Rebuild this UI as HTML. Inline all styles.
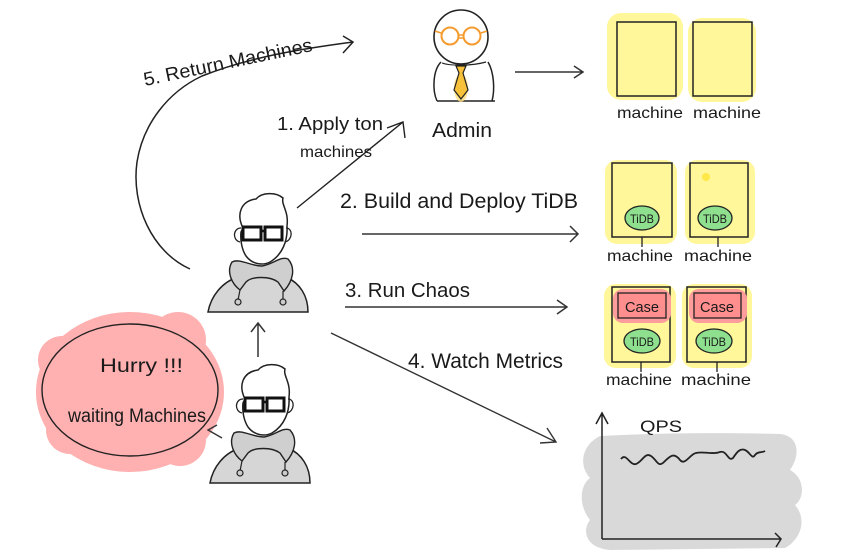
<!DOCTYPE html>
<html><head><meta charset="utf-8">
<style>
html,body{margin:0;padding:0;background:#fff;}
svg{display:block;}
text{font-family:"Liberation Sans",sans-serif;fill:#1a1a1a;}
</style></head>
<body>
<svg width="865" height="560" viewBox="0 0 865 560" xmlns="http://www.w3.org/2000/svg">
<defs>
<g id="dev">
  <!-- body -->
  <path d="M208 312 C211 296 222 282 238 277 L286 277 C300 283 308 296 308 312 Z" fill="#d6d6d6" stroke="#222" stroke-width="1.5"/>
  <!-- hood collar -->
  <path d="M232 262 C226 272 232 284 240 290 L246 282 C252 276 270 276 278 282 L284 291 C293 281 296 268 288 259 C280 256 274 264 262 266 C250 266 240 258 232 262 Z" fill="#cfcfcf" stroke="#222" stroke-width="1.4"/>
  <path d="M240 290 L238 300 M283 291 L283 300" stroke="#222" stroke-width="1.2" fill="none"/>
  <circle cx="238" cy="302" r="3" fill="#ccc" stroke="#222" stroke-width="1.2"/>
  <circle cx="283" cy="302" r="3" fill="#ccc" stroke="#222" stroke-width="1.2"/>
  <!-- head -->
  <path d="M243 228 C236 214 241 201 256 199 C262 192 276 192 283 198 C281 205 289 211 287 226 C288 241 282 255 270 262 C262 266 252 264 246 256 C242 250 240 240 241 232 Z" fill="#fff" stroke="#222" stroke-width="1.5"/>
  <path d="M241 228 C233 228 232 240 240 242 M286 228 C293 228 293 240 285 242" fill="none" stroke="#222" stroke-width="1.3"/>
  <!-- glasses -->
  <rect x="243" y="227" width="18" height="13" fill="none" stroke="#111" stroke-width="3"/>
  <rect x="265" y="227" width="17" height="13" fill="none" stroke="#111" stroke-width="3"/>
  <path d="M261 231 L265 231" stroke="#111" stroke-width="2.5"/>
</g>
</defs>

<!-- ===== Admin ===== -->
<path d="M437 101 C432 90 433 70 441 62 M488 62 C494 72 495 90 492 101" fill="none" stroke="#222" stroke-width="1.5"/>
<path d="M437 101 L495 101" stroke="#222" stroke-width="1.5"/>
<path d="M442 63 C450 66 472 66 486 62" fill="none" stroke="#222" stroke-width="1.2"/>
<ellipse cx="461" cy="88" rx="7" ry="14" fill="#ffe07a" opacity="0.8"/>
<path d="M456 66 L466 66 L463 73 L468 90 L461 99 L454 90 L459 73 Z" fill="#f7c23a" stroke="#222" stroke-width="1.2"/>
<circle cx="461" cy="37" r="27" fill="#fff" stroke="#222" stroke-width="1.6"/>
<circle cx="450" cy="36" r="8.5" fill="none" stroke="#f59b2e" stroke-width="2"/>
<circle cx="472" cy="36" r="8.5" fill="none" stroke="#f59b2e" stroke-width="2"/>
<path d="M458 35 L464 35 M458 38 L464 38 M441 33 L435 31 M481 33 L487 31" stroke="#f59b2e" stroke-width="1.5"/>
<text x="432" y="137" font-size="20" textLength="60" lengthAdjust="spacingAndGlyphs">Admin</text>

<!-- admin arrow -->
<path d="M515 72 L583 72 M574 66 L583 72 L574 78" fill="none" stroke="#333" stroke-width="1.5"/>

<!-- ===== Top machines ===== -->
<rect x="607" y="13" width="76" height="87" rx="14" fill="#fff799"/>
<rect x="688" y="18" width="68" height="84" rx="14" fill="#fff799"/>
<rect x="617" y="22" width="59" height="74" fill="#fff799" stroke="#222" stroke-width="1.5"/>
<rect x="693" y="22" width="59" height="74" fill="#fff799" stroke="#222" stroke-width="1.5"/>
<text x="617" y="118" font-size="16" textLength="66" lengthAdjust="spacingAndGlyphs">machine</text>
<text x="693" y="118" font-size="16" textLength="68" lengthAdjust="spacingAndGlyphs">machine</text>

<!-- ===== Row 2 machines ===== -->
<rect x="605" y="160" width="72" height="84" rx="12" fill="#fff799"/>
<rect x="685" y="160" width="70" height="84" rx="12" fill="#fff799"/>
<rect x="612" y="163" width="60" height="74" fill="#fff799" stroke="#222" stroke-width="1.5"/>
<rect x="690" y="163" width="58" height="74" fill="#fff799" stroke="#222" stroke-width="1.5"/>
<circle cx="706" cy="177" r="4" fill="#ffe84a"/>
<ellipse cx="642" cy="218" rx="17" ry="12" fill="#8ee08e" stroke="#222" stroke-width="1.3"/>
<ellipse cx="715" cy="218" rx="17" ry="12" fill="#8ee08e" stroke="#222" stroke-width="1.3"/>
<text x="630" y="223" font-size="12" textLength="24" lengthAdjust="spacingAndGlyphs">TiDB</text>
<text x="703" y="223" font-size="12" textLength="24" lengthAdjust="spacingAndGlyphs">TiDB</text>
<path d="M642 237 L642 247 M718 237 L718 247" stroke="#222" stroke-width="1.3"/>
<text x="607" y="261" font-size="16" textLength="66" lengthAdjust="spacingAndGlyphs">machine</text>
<text x="684" y="261" font-size="16" textLength="68" lengthAdjust="spacingAndGlyphs">machine</text>

<!-- ===== Row 3 machines ===== -->
<rect x="604" y="284" width="72" height="84" rx="12" fill="#fff799"/>
<rect x="682" y="284" width="70" height="84" rx="12" fill="#fff799"/>
<rect x="612" y="287" width="58" height="75" fill="#fff799" stroke="#222" stroke-width="1.5"/>
<rect x="687" y="287" width="59" height="75" fill="#fff799" stroke="#222" stroke-width="1.5"/>
<rect x="613" y="289" width="58" height="34" rx="10" fill="#ff9c9c"/>
<rect x="689" y="289" width="58" height="34" rx="10" fill="#ff9c9c"/>
<rect x="618" y="293" width="48" height="25" fill="#ff8e8e" stroke="#222" stroke-width="1.3"/>
<rect x="694" y="293" width="47" height="25" fill="#ff8e8e" stroke="#222" stroke-width="1.3"/>
<text x="625" y="312" font-size="15" textLength="34" lengthAdjust="spacingAndGlyphs">Case</text>
<text x="700" y="312" font-size="15" textLength="34" lengthAdjust="spacingAndGlyphs">Case</text>
<ellipse cx="642" cy="341" rx="18" ry="12" fill="#8ee08e" stroke="#222" stroke-width="1.3"/>
<ellipse cx="714" cy="341" rx="18" ry="12" fill="#8ee08e" stroke="#222" stroke-width="1.3"/>
<text x="630" y="346" font-size="12" textLength="24" lengthAdjust="spacingAndGlyphs">TiDB</text>
<text x="702" y="346" font-size="12" textLength="24" lengthAdjust="spacingAndGlyphs">TiDB</text>
<path d="M641 362 L641 372 M717 362 L717 372" stroke="#222" stroke-width="1.3"/>
<text x="606" y="385" font-size="16" textLength="66" lengthAdjust="spacingAndGlyphs">machine</text>
<text x="681" y="385" font-size="16" textLength="70" lengthAdjust="spacingAndGlyphs">machine</text>

<!-- ===== Chart ===== -->
<path d="M600 436 C640 434 700 432 780 434 C800 436 800 456 790 470 C805 478 805 498 795 505 C808 520 800 540 785 548 L610 550 C585 548 582 530 590 520 C578 505 580 485 590 478 C578 465 582 445 600 436 Z" fill="#d9d9d9"/>
<path d="M602 539 L602 414 M596 424 L602 413 L608 424" fill="none" stroke="#222" stroke-width="1.5"/>
<path d="M602 539 L781 539 M775 533 L781 539 L776 547" fill="none" stroke="#222" stroke-width="1.5"/>
<text x="640" y="432" font-size="17" textLength="42" lengthAdjust="spacingAndGlyphs">QPS</text>
<path d="M621 459 C626 452 630 466 636 464 C642 462 645 452 651 456 C657 460 658 468 664 462 C670 456 674 452 680 460 C685 466 690 454 696 453 C704 451 712 455 720 452 C727 450 728 462 733 458 C737 452 740 448 745 450 C750 452 752 460 755 455 C758 451 762 453 765 451" fill="none" stroke="#222" stroke-width="1.8"/>

<!-- ===== Bubble ===== -->
<ellipse cx="130" cy="392" rx="94" ry="80" fill="#ffb0b0"/>
<circle cx="62" cy="360" r="24" fill="#ffb0b0"/>
<circle cx="178" cy="340" r="28" fill="#ffb0b0"/>
<circle cx="70" cy="430" r="24" fill="#ffb0b0"/>
<circle cx="180" cy="440" r="26" fill="#ffb0b0"/>
<ellipse cx="130" cy="390" rx="88" ry="66" fill="none" stroke="#222" stroke-width="1.4"/>
<text x="100" y="372" font-size="19" textLength="83" lengthAdjust="spacingAndGlyphs">Hurry !!!</text>
<text x="68" y="422" font-size="19" textLength="138" lengthAdjust="spacingAndGlyphs">waiting Machines</text>
<path d="M217 425 L208 430 L222 438" fill="none" stroke="#333" stroke-width="1.4"/>

<!-- ===== Developers ===== -->
<use href="#dev"/>
<use href="#dev" transform="translate(2,171)"/>
<path d="M258 357 L258 323 M251 332 L258 323 L265 332" fill="none" stroke="#333" stroke-width="1.5"/>

<!-- ===== Arrows & labels ===== -->
<!-- 5 return -->
<path d="M190 269 C152 252 131 205 137 162 C143 124 168 92 202 76 C250 57 300 49 353 42" fill="none" stroke="#222" stroke-width="1.5"/>
<path d="M343 36 L353 42 L343 53" fill="none" stroke="#222" stroke-width="1.5"/>
<text x="145" y="86" font-size="19" textLength="172" lengthAdjust="spacingAndGlyphs" transform="rotate(-11.8 145 86)">5. Return Machines</text>

<!-- 1 apply -->
<path d="M297 208 L403 122 M387 128 L403 122 L405 138" fill="none" stroke="#222" stroke-width="1.4"/>
<text x="277" y="130" font-size="18" textLength="106" lengthAdjust="spacingAndGlyphs">1.  Apply ton</text>
<text x="300" y="157" font-size="16" textLength="72" lengthAdjust="spacingAndGlyphs">machines</text>

<!-- 2 build -->
<path d="M362 234 L578 234 M570 226 L578 234 L570 242" fill="none" stroke="#333" stroke-width="1.5"/>
<text x="340" y="208" font-size="21" textLength="238" lengthAdjust="spacingAndGlyphs">2. Build and Deploy TiDB</text>

<!-- 3 run chaos -->
<path d="M345 307 L567 307 M557 300 L567 307 L557 314" fill="none" stroke="#333" stroke-width="1.5"/>
<text x="345" y="297" font-size="20" textLength="125" lengthAdjust="spacingAndGlyphs">3. Run Chaos</text>

<!-- 4 watch -->
<path d="M331 333 L556 442 M547 428 L556 442 L540 443" fill="none" stroke="#333" stroke-width="1.4"/>
<text x="408" y="368" font-size="21" textLength="155" lengthAdjust="spacingAndGlyphs">4. Watch Metrics</text>
</svg>
</body></html>
